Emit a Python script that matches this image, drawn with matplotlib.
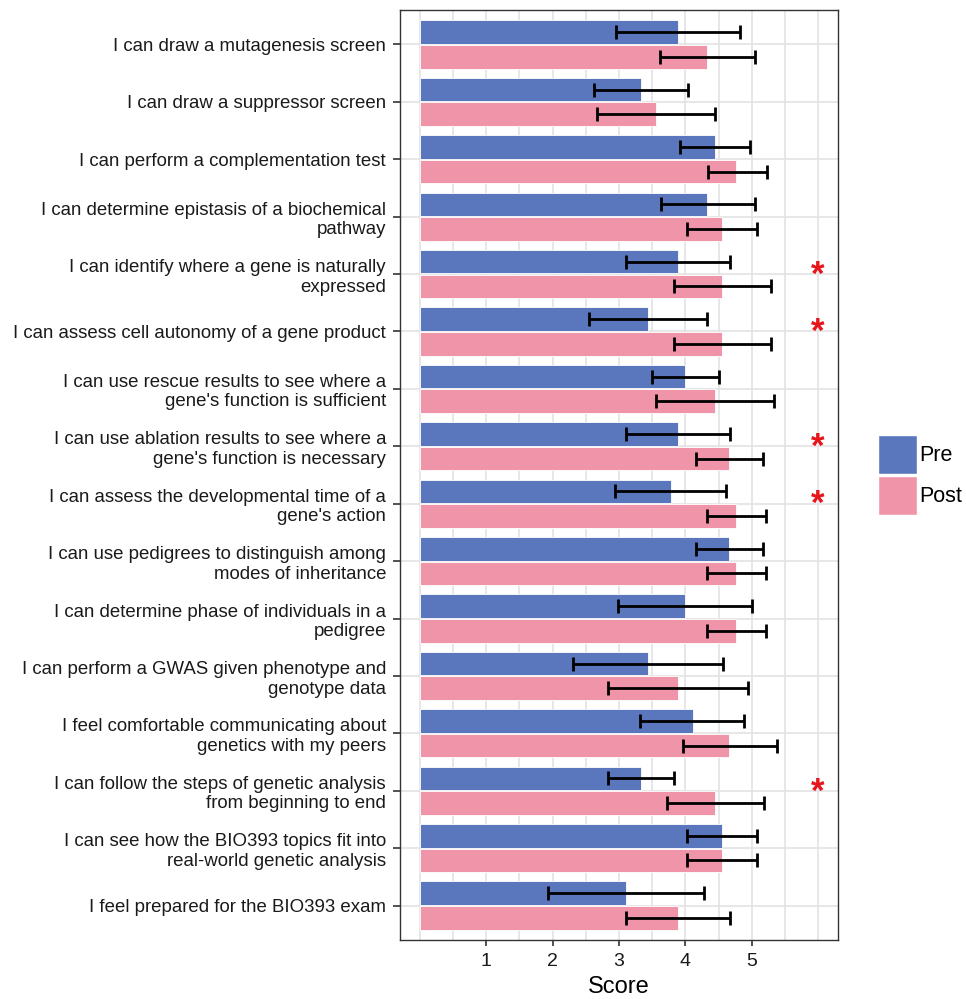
import numpy as np
import matplotlib
matplotlib.use("Agg")
import matplotlib.pyplot as plt
from matplotlib.patches import Patch

plt.rcParams['font.family'] = ['Liberation Sans', 'DejaVu Sans']

# survey items, top to bottom
items = [
    "I can draw a mutagenesis screen",
    "I can draw a suppressor screen",
    "I can perform a complementation test",
    "I can determine epistasis of a biochemical\npathway",
    "I can identify where a gene is naturally\nexpressed",
    "I can assess cell autonomy of a gene product",
    "I can use rescue results to see where a\ngene's function is sufficient",
    "I can use ablation results to see where a\ngene's function is necessary",
    "I can assess the developmental time of a\ngene's action",
    "I can use pedigrees to distinguish among\nmodes of inheritance",
    "I can determine phase of individuals in a\npedigree",
    "I can perform a GWAS given phenotype and\ngenotype data",
    "I feel comfortable communicating about\ngenetics with my peers",
    "I can follow the steps of genetic analysis\nfrom beginning to end",
    "I can see how the BIO393 topics fit into\nreal-world genetic analysis",
    "I feel prepared for the BIO393 exam",
]

pre_mean = [3.89, 3.33, 4.44, 4.33, 3.89, 3.44, 4.00, 3.89, 3.78, 4.66, 4.00, 3.44, 4.11, 3.33, 4.55, 3.11]
pre_lo   = [2.95, 2.62, 3.92, 3.63, 3.11, 2.55, 3.50, 3.11, 2.94, 4.16, 2.99, 2.30, 3.32, 2.83, 4.03, 1.93]
pre_hi   = [4.82, 4.04, 4.97, 5.05, 4.67, 4.32, 4.50, 4.67, 4.61, 5.17, 5.00, 4.57, 4.89, 3.83, 5.08, 4.28]

post_mean = [4.32, 3.56, 4.77, 4.55, 4.55, 4.55, 4.44, 4.66, 4.77, 4.77, 4.77, 3.89, 4.66, 4.44, 4.55, 3.89]
post_lo   = [3.62, 2.67, 4.34, 4.03, 3.83, 3.83, 3.56, 4.16, 4.33, 4.33, 4.33, 2.83, 3.96, 3.72, 4.03, 3.11]
post_hi   = [5.05, 4.44, 5.23, 5.08, 5.29, 5.29, 5.33, 5.17, 5.22, 5.22, 5.22, 4.95, 5.38, 5.18, 5.08, 4.67]

# items with significant change
signif = [4, 5, 7, 8, 13]

pre_col = '#5A77BE'
post_col = '#F095A9'

fig = plt.figure(figsize=(9.66, 9.99), dpi=100)
ax = fig.add_axes([400 / 966, 1 - 940 / 999, 438 / 966, 930 / 999])

y = np.arange(len(items))
h = 0.41
off = 0.215
pre_mean = np.array(pre_mean); post_mean = np.array(post_mean)

ax.barh(y - off, pre_mean, height=h, color=pre_col, edgecolor='white', linewidth=0.6, zorder=2)
ax.barh(y + off, post_mean, height=h, color=post_col, edgecolor='white', linewidth=0.6, zorder=2)

ekw = dict(fmt='none', ecolor='black', elinewidth=2.0, capsize=5, capthick=2.0, zorder=3)
ax.errorbar(pre_mean, y - off, xerr=[pre_mean - np.array(pre_lo), np.array(pre_hi) - pre_mean], **ekw)
ax.errorbar(post_mean, y + off, xerr=[post_mean - np.array(post_lo), np.array(post_hi) - post_mean], **ekw)

for i in signif:
    ax.text(6, y[i] + 0.02, '*', color='#E8141B', fontsize=25, fontweight='bold',
            ha='center', va='center', zorder=4)

# grid like theme_bw
for gx in np.arange(0, 6.01, 0.5):
    ax.axvline(gx, color='#E3E3E3', lw=1.2, zorder=0)
for gy in y:
    ax.axhline(gy, color='#E3E3E3', lw=1.2, zorder=0)

ax.set_xlim(-0.3, 6.3)
ax.set_ylim(len(items) - 0.4, -0.6)
ax.set_xticks([1, 2, 3, 4, 5])
ax.set_xticklabels(['1', '2', '3', '4', '5'])
ax.set_yticks(y)
ax.set_yticklabels(items, fontsize=13.4, color='#1A1A1A', linespacing=1.2)
ax.tick_params(axis='x', labelsize=14, labelcolor='#1A1A1A', length=4, width=1.2, color='#333333', pad=5)
ax.tick_params(axis='y', length=5, width=1.2, color='#333333', pad=5)
ax.set_xlabel('Score', fontsize=17, labelpad=5)
for s in ax.spines.values():
    s.set_color('#333333')
    s.set_linewidth(1.0)

handles = [Patch(facecolor=pre_col, edgecolor='white', label='Pre'),
           Patch(facecolor=post_col, edgecolor='white', label='Post')]
fig.legend(handles=handles, loc='upper left', bbox_to_anchor=(878 / 966, 1 - 435 / 999),
           frameon=False, fontsize=15.5, handlelength=1.8, handleheight=2.4,
           labelspacing=0.1, handletextpad=0.1, borderpad=0, borderaxespad=0)

fig.savefig('out.png', dpi=100)
